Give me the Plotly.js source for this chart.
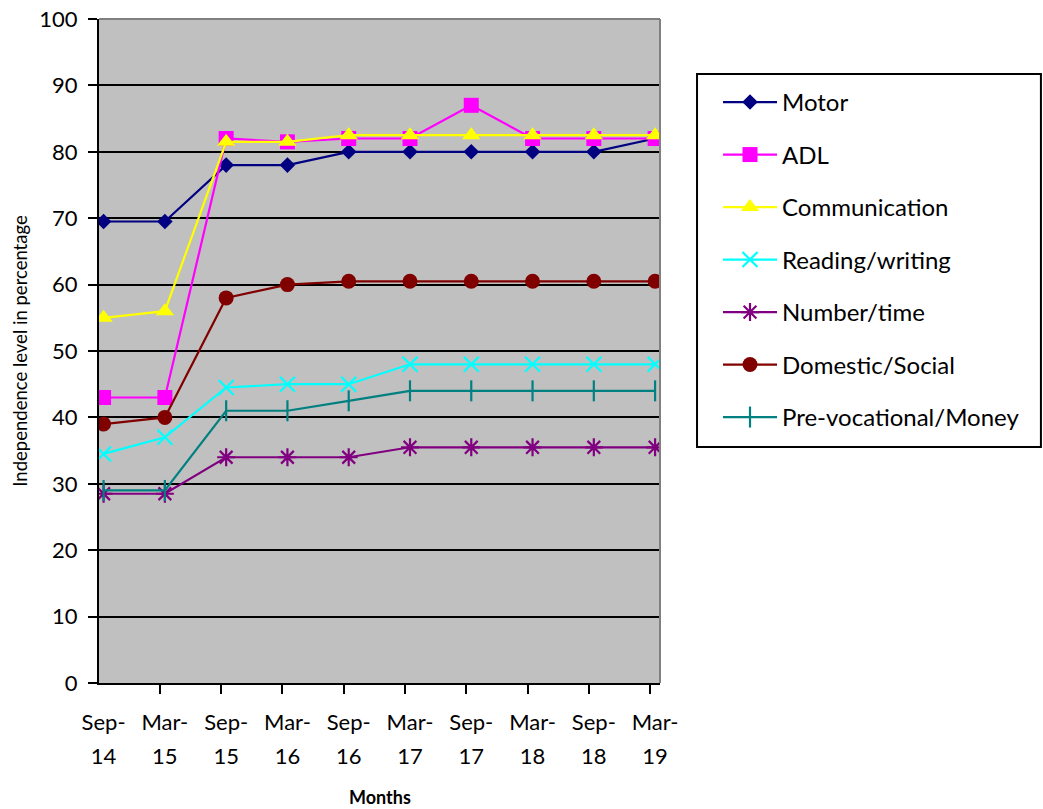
<!DOCTYPE html>
<html>
<head>
<meta charset="utf-8">
<script src="https://cdn.plot.ly/plotly-3.0.1.min.js"></script>
<style>html,body{margin:0;padding:0;background:#fff;}#chart{width:1043px;height:809px;}</style>
</head>
<body>
<div id="chart"></div>
<script>
const categories = ['Sep-14','Mar-15','Sep-15','Mar-16','Sep-16','Mar-17','Sep-17','Mar-18','Sep-18','Mar-19'];
const motor = [69.5, 69.5, 78, 78, 80, 80, 80, 80, 80, 82];
const adl = [43, 43, 82, 81.5, 82, 82, 87, 82, 82, 82];
const communication = [55, 56, 81.5, 81.5, 82.5, 82.5, 82.5, 82.5, 82.5, 82.5];
const readingWriting = [34.5, 37, 44.5, 45, 45, 48, 48, 48, 48, 48];
const numberTime = [28.5, 28.5, 34, 34, 34, 35.5, 35.5, 35.5, 35.5, 35.5];
const domesticSocial = [39, 40, 58, 60, 60.5, 60.5, 60.5, 60.5, 60.5, 60.5];
const preVocational = [29, 29, 41, 41, 42.5, 44, 44, 44, 44, 44];
const yTicks = [0, 10, 20, 30, 40, 50, 60, 70, 80, 90, 100];

const idx = categories.map((c, i) => i);
const monthText = categories.map(c => c.split('-')[0] + '-');
const yearText = categories.map(c => c.split('-')[1]);
const xRange = [-0.075, 9.08];

function series(name, y, color, symbol, size, lineW) {
  return {
    type: 'scatter', mode: 'lines+markers', name: name, legendgroup: name,
    x: idx, y: y,
    line: {color: color, width: 2.2},
    marker: {symbol: symbol, size: size, color: color, line: {color: color, width: lineW || 0}}
  };
}

const data = [
  series('Motor', motor, '#000080', 'diamond', 12),
  series('ADL', adl, '#FF00FF', 'square', 15),
  series('Communication', communication, '#FFFF00', 'triangle-up', 16),
  series('Reading/writing', readingWriting, '#00FFFF', 'x-thin-open', 15, 2.2),
  series('Number/time', numberTime, '#800080', 'asterisk-open', 15, 2.2),
  series('Domestic/Social', domesticSocial, '#800000', 'circle', 15),
  series('Pre-vocational/Money', preVocational, '#008080', 'line-ns-open', 15, 2.2),
  // empty helper traces so the label axes are drawn
  {type: 'scatter', x: [], y: [], xaxis: 'x2', yaxis: 'y', showlegend: false, hoverinfo: 'skip'},
  {type: 'scatter', x: [], y: [], xaxis: 'x3', yaxis: 'y', showlegend: false, hoverinfo: 'skip'}
];

const layout = {
  width: 1043, height: 809,
  margin: {l: 99, r: 383, t: 19, b: 126},
  paper_bgcolor: '#ffffff', plot_bgcolor: '#C0C0C0',
  font: {family: 'Lato, "Open Sans", sans-serif', color: '#000'},
  showlegend: true,
  legend: {
    x: 1.1034, y: 0.9082, xanchor: 'left', yanchor: 'top',
    borderwidth: 0, bgcolor: 'rgba(0,0,0,0)',
    font: {size: 24, color: '#000'},
    itemwidth: 54,
    traceorder: 'grouped', tracegroupgap: 18.3
  },
  xaxis: {
    type: 'linear', range: xRange,
    tickvals: idx.map(i => i - 0.082), ticktext: idx.map(() => ''),
    ticks: 'outside', ticklen: 9, tickwidth: 2, tickcolor: '#000',
    showline: true, linecolor: '#000', linewidth: 2,
    showgrid: false, zeroline: false
  },
  xaxis2: {
    overlaying: 'x', anchor: 'y', side: 'bottom', type: 'linear', range: xRange,
    tickvals: idx, ticktext: monthText, ticks: '', showline: false, showgrid: false, zeroline: false,
    tickfont: {size: 22}, ticklabelstandoff: 24
  },
  xaxis3: {
    overlaying: 'x', anchor: 'y', side: 'bottom', type: 'linear', range: xRange,
    tickvals: idx, ticktext: yearText, ticks: '', showline: false, showgrid: false, zeroline: false,
    tickfont: {size: 22}, ticklabelstandoff: 58
  },
  yaxis: {
    range: [0, 100], tickvals: yTicks,
    ticks: 'outside', ticklen: 9, tickwidth: 2, tickcolor: '#000',
    showline: true, linecolor: '#000', linewidth: 2,
    showgrid: true, gridcolor: '#000', gridwidth: 2, zeroline: false,
    tickfont: {size: 22}, ticklabelstandoff: 6,
    title: {text: 'Independence level in percentage', font: {size: 18.5}, standoff: 7}
  },
  annotations: [
    {text: '<b>Months</b>', xref: 'paper', yref: 'paper', x: 0.5, y: 0, yshift: -114,
     xanchor: 'center', yanchor: 'middle', showarrow: false, font: {size: 18}}
  ],
  shapes: [
    {type: 'line', xref: 'paper', yref: 'paper', x0: 0, x1: 1, y0: 1, y1: 1, line: {color: '#808080', width: 2}},
    {type: 'line', xref: 'paper', yref: 'paper', x0: 1, x1: 1, y0: 0, y1: 1, line: {color: '#808080', width: 2}},
    {type: 'rect', xref: 'paper', yref: 'paper', x0: 1.066, x1: 1.679, y0: 0.3554, y1: 0.9172,
     line: {color: '#000', width: 2}, fillcolor: '#ffffff', layer: 'below'}
  ]
};

Plotly.newPlot('chart', data, layout, {displayModeBar: false, staticPlot: true});
</script>
</body>
</html>
